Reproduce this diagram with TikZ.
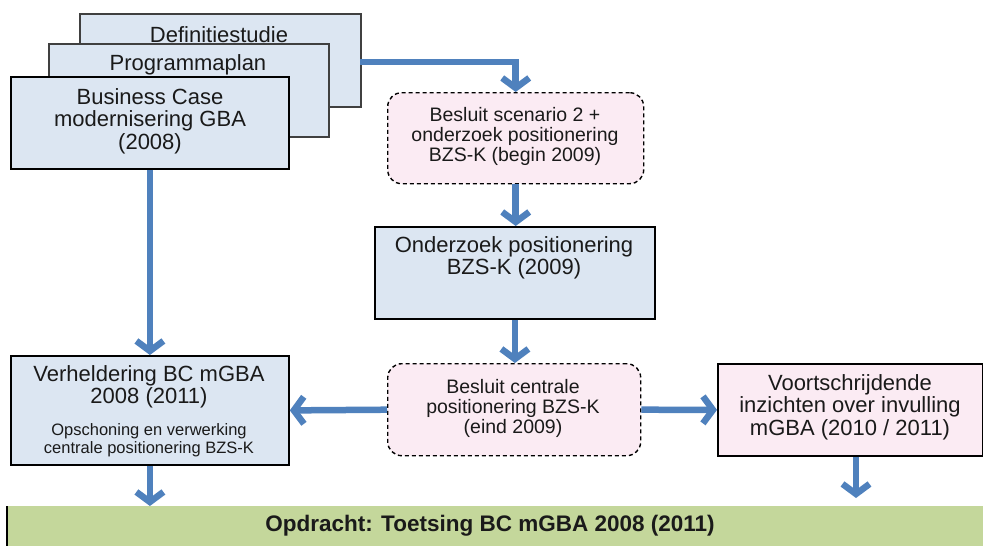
\documentclass[tikz,border=0pt]{standalone}
\usepackage{fontspec}
\setmainfont{Liberation Sans}
\usetikzlibrary{arrows.meta}
\definecolor{boxblue}{HTML}{DCE6F2}
\definecolor{boxpink}{HTML}{FBEBF3}
\definecolor{arrblue}{HTML}{4F81BD}
\definecolor{bargreen}{HTML}{C4D79B}
\definecolor{txt}{HTML}{1A1A1A}
\tikzset{
  bluebox/.style={draw=black, line width=1.8pt, fill=boxblue, inner sep=0pt, anchor=north west},
  stackbox/.style={draw=black!75, line width=1.6pt, fill=boxblue, inner sep=0pt, anchor=north west},
  pinkbox/.style={draw=black, line width=1.8pt, fill=boxpink, inner sep=0pt, anchor=north west},
  dashbox/.style={draw=black, line width=1.4pt, dash pattern=on 4pt off 3pt, rounded corners=14pt, fill=boxpink, inner sep=0pt, anchor=north west},
  bigtxt/.style={text=txt, align=center, inner sep=0pt, font=\fontsize{22}{22.5}\selectfont},
  midtxt/.style={text=txt, align=center, inner sep=0pt, font=\fontsize{19.5}{20}\selectfont},
  smalltxt/.style={text=txt, align=center, inner sep=0pt, font=\fontsize{16.5}{17.5}\selectfont},
  bartxt/.style={text=txt, align=center, inner sep=0pt, font=\bfseries\fontsize{22.5}{22.5}\selectfont},
  arr/.style={draw=arrblue, line width=6.5pt, -{Straight Barb[length=10pt, width=27pt, line width=6.5pt]}}
}
\begin{document}
\begin{tikzpicture}[x=1pt, y=-1pt]
\useasboundingbox (0,0) rectangle (983,546);
\fill[white] (0,0) rectangle (983,546);

% stacked boxes
\node[stackbox, minimum width=281pt, minimum height=93pt] (def) at (79,13) {};
\node[bigtxt] (deft) at (219,35) {Definitiestudie};
\node[stackbox, minimum width=280pt, minimum height=93pt] (prog) at (48,43) {};
\node[bigtxt] (progt) at (188,65) {Programmaplan};
\node[bluebox, minimum width=278pt, minimum height=92pt] (bc) at (10,76) {};
\node[bigtxt] (bct) at (150,121) {Business Case\\modernisering GBA\\(2008)};

% right column
\node[dashbox, minimum width=256pt, minimum height=91pt] (bs1) at (387,92) {};
\node[midtxt] (bs1t) at (515,136) {Besluit scenario 2 +\\onderzoek positionering\\BZS-K (begin 2009)};
\node[bluebox, minimum width=280pt, minimum height=92pt] (ond) at (374,226) {};
\node[bigtxt] (ondt) at (514,258) {Onderzoek positionering\\BZS-K (2009)};
\node[dashbox, minimum width=253pt, minimum height=92pt] (bs2) at (387,363) {};
\node[midtxt] (bs2t) at (513,408) {Besluit centrale\\positionering BZS-K\\(eind 2009)};
\node[pinkbox, minimum width=265pt, minimum height=92pt] (voort) at (717,363) {};
\node[bigtxt] (voortt) at (850,407) {Voortschrijdende\\inzichten over invulling\\mGBA (2010 / 2011)};

% left lower box
\node[bluebox, minimum width=278pt, minimum height=109pt] (verh) at (10,355) {};
\node[bigtxt] (verht) at (149,387) {Verheldering BC mGBA\\2008 (2011)};
\node[smalltxt] (verhs) at (149,440) {Opschoning en verwerking\\centrale positionering BZS-K};

% bottom bar
\node[fill=bargreen, inner sep=0pt, anchor=north west, minimum width=976pt, minimum height=41pt] (bar) at (7,506) {};
\draw[black, line width=1.5pt] (bar.north west) -- (bar.south west);
\node[bartxt] (bart) at (490,526) {Opdracht: Toetsing BC mGBA 2008 (2011)};

% arrows
\coordinate (defout) at (360,62);
\draw[arr] (defout) -| (bs1.north);
\draw[arr] (bc.south) -- (verh.north);
\draw[arr] (bs1.south) -- (bs1.south |- ond.north);
\draw[arr] (ond.south) -- (ond.south |- bs2.north);
\draw[arr] (bs2.west) -- (verh.east);
\draw[arr] (bs2.east) -- (voort.west);
\draw[arr] (verh.south) -- (verh.south |- bar.north);
\coordinate (vend) at (856,498);
\draw[arr] (vend |- voort.south) -- (vend);
\end{tikzpicture}
\end{document}
